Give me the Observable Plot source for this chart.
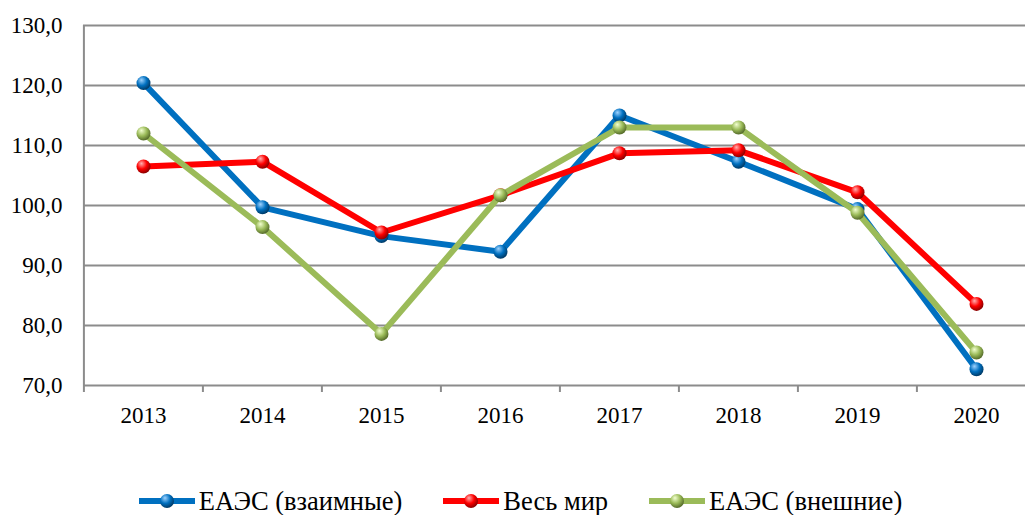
<!DOCTYPE html>
<html>
<head>
<meta charset="utf-8">
<script src="https://cdn.jsdelivr.net/npm/d3@7"></script>
<script src="https://cdn.jsdelivr.net/npm/@observablehq/plot@0.6"></script>
<style>
  html, body { margin: 0; padding: 0; background: #fff; }
  body { width: 1025px; height: 515px; overflow: hidden; font-family: "Liberation Serif", "Times New Roman", serif; }
  #legend { display: flex; justify-content: center; align-items: center; height: 30px; margin-top: 46px; font-size: 26.5px; color: #000; padding-left: 16px; font-family: "Liberation Serif", "Times New Roman", serif; }
  .item { display: flex; align-items: center; margin: 0 20.5px; }
  .item svg { margin-right: 4px; }
</style>
</head>
<body>
<div id="chart"></div>
<div id="legend"></div>
<script>
const years = ["2013", "2014", "2015", "2016", "2017", "2018", "2019", "2020"];
const mutual = [120.4, 99.7, 94.9, 92.3, 115.0, 107.3, 99.4, 72.7];
const world = [106.5, 107.3, 95.5, 101.7, 108.7, 109.2, 102.2, 83.6];
const external = [112.0, 96.4, 78.6, 101.7, 113.0, 113.0, 98.8, 75.5];
const seriesNames = ["ЕАЭС (взаимные)", "Весь мир", "ЕАЭС (внешние)"];
const yTicks = [70, 80, 90, 100, 110, 120, 130];

const colors = ["#0070C0", "#FF0000", "#9BBB59"];
const grads = ["gBlue", "gRed", "gGreen"];
const seriesValues = [mutual, world, external];
const series = seriesNames.map((name, i) => years.map((y, j) => ({year: y, value: seriesValues[i][j], name})));

const xRange = [82.5, 1036];
const step = (xRange[1] - xRange[0]) / years.length;
const grid = "#8c8c8c";
const serif = "'Liberation Serif', 'Times New Roman', serif";

const marks = [
  Plot.ruleY(yTicks, {stroke: grid, strokeWidth: 2}),
  Plot.ruleX([years[0]], {y1: 130, y2: 70, stroke: grid, strokeWidth: 2, dx: -step / 2}),
  Plot.ruleY(yTicks, {y: d => d, x1: years[0], x2: years[0], dx: -step / 2, insetLeft: -7, stroke: grid, strokeWidth: 2}),
  Plot.ruleX(years, {x: d => d, y1: 70, y2: 70, dx: -step / 2, insetBottom: -7, stroke: grid, strokeWidth: 2})
];
series.forEach((s, i) => {
  marks.push(Plot.line(s, {x: "year", y: "value", stroke: colors[i], strokeWidth: 6, strokeLinejoin: "round"}));
  marks.push(Plot.dot(s, {x: "year", y: "value", r: 7, fill: `url(#${grads[i]})`, stroke: "none"}));
});

const chart = Plot.plot({
  width: 1025,
  height: 440,
  marginLeft: 83,
  marginRight: 0,
  marginTop: 25,
  marginBottom: 55,
  style: {fontFamily: serif, fontSize: "23px", color: "#000", background: "#fff"},
  x: {type: "point", domain: years, range: xRange, padding: 0.5, axis: null, label: null},
  y: {domain: [70, 130], axis: null, label: null},
  marks: [
    ...marks,
    Plot.axisY(yTicks, {tickSize: 0, tickPadding: 21, tickFormat: d => d.toFixed(1).replace(".", ","), fontSize: 23, fontFamily: serif, anchor: "left", label: null}),
    Plot.axisX(years, {tickSize: 0, tickPadding: 21, fontSize: 23, fontFamily: serif, anchor: "bottom", label: null})
  ]
});

const defs = d3.select(chart).insert("defs", ":first-child");
const gradStops = [
  ["#9fd3ff", "#0070C0", "#003a66"],
  ["#ffb0b0", "#ff0000", "#8a0000"],
  ["#f2ffd0", "#9BBB59", "#556b2a"]
];
grads.forEach((id, i) => {
  const g = defs.append("radialGradient").attr("id", id).attr("cx", "40%").attr("cy", "35%").attr("r", "65%").attr("fx", "35%").attr("fy", "28%");
  g.append("stop").attr("offset", "0%").attr("stop-color", gradStops[i][0]);
  g.append("stop").attr("offset", "55%").attr("stop-color", gradStops[i][1]);
  g.append("stop").attr("offset", "100%").attr("stop-color", gradStops[i][2]);
});
document.getElementById("chart").appendChild(chart);

const legend = d3.select("#legend");
seriesNames.forEach((name, i) => {
  const item = legend.append("div").attr("class", "item");
  const svg = item.append("svg").attr("width", 56).attr("height", 16);
  const ldefs = svg.append("defs");
  const g = ldefs.append("radialGradient").attr("id", "l" + grads[i]).attr("cx", "40%").attr("cy", "35%").attr("r", "65%").attr("fx", "35%").attr("fy", "28%");
  g.append("stop").attr("offset", "0%").attr("stop-color", gradStops[i][0]);
  g.append("stop").attr("offset", "55%").attr("stop-color", gradStops[i][1]);
  g.append("stop").attr("offset", "100%").attr("stop-color", gradStops[i][2]);
  svg.append("line").attr("x1", 1).attr("x2", 55).attr("y1", 8).attr("y2", 8).attr("stroke", colors[i]).attr("stroke-width", 6).attr("stroke-linecap", "round");
  svg.append("circle").attr("cx", 28).attr("cy", 8).attr("r", 7).attr("fill", `url(#l${grads[i]})`);
  item.append("span").text(name);
});
</script>
</body>
</html>
